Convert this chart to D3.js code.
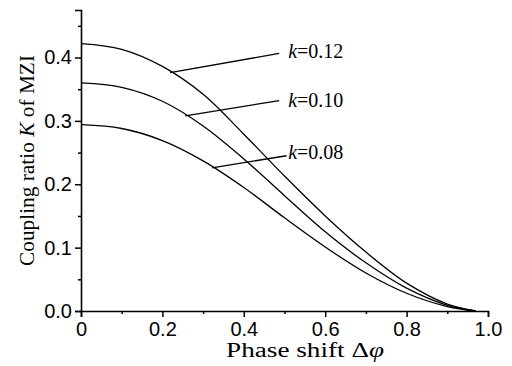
<!DOCTYPE html>
<html>
<head>
<meta charset="utf-8">
<script src="https://cdn.jsdelivr.net/npm/d3@7"></script>
<style>
  body { margin: 0; background: #fff; }
  svg { font-family: "Liberation Serif", "Times New Roman", serif; }
</style>
</head>
<body>
<div id="chart"></div>
<script>
// phase shift samples and coupling ratio K
const phase = [0, 0.1, 0.2, 0.3, 0.4, 0.5, 0.6, 0.7, 0.8, 0.9, 0.97];
const k012 = [0.422, 0.413, 0.386, 0.342, 0.279, 0.213, 0.150, 0.093, 0.044, 0.011, 0];
const k010 = [0.360, 0.353, 0.331, 0.292, 0.240, 0.182, 0.125, 0.076, 0.036, 0.009, 0];
const k008 = [0.294, 0.288, 0.269, 0.237, 0.195, 0.147, 0.101, 0.060, 0.028, 0.007, 0];

const xTicks = [0, 0.2, 0.4, 0.6, 0.8, 1.0];
const xTickLabels = ['0', '0.2', '0.4', '0.6', '0.8', '1.0'];
const yTicks = [0, 0.1, 0.2, 0.3, 0.4];

// annotations: where the leader touches the curve and where it ends (data units)
const labels = [
  {k: '0.12', x0: 0.219, y0: 0.376, x1: 0.487, y1: 0.4066, ty: 0.4106},
  {k: '0.10', x0: 0.256, y0: 0.308, x1: 0.487, y1: 0.332, ty: 0.333},
  {k: '0.08', x0: 0.322, y0: 0.226, x1: 0.505, y1: 0.245, ty: 0.251}
];

var margin = {top: 10, right: 24, bottom: 55, left: 81},
  width = 512 - margin.left - margin.right,
  height = 366 - margin.top - margin.bottom;

var x = d3.scaleLinear().domain([0, 1]).range([0, width]);
var y = d3.scaleLinear().domain([0, 0.475]).range([height, 0]);

var svg = d3.select('#chart')
  .append('svg')
  .attr('width', 512)
  .attr('height', 366)
  .append('g')
  .attr('transform', `translate(${margin.left},${margin.top})`);

// minor ticks first, then the major axes
svg.append('g')
  .attr('transform', `translate(0,${height})`)
  .call(d3.axisBottom(x).tickValues(d3.range(0.1, 1, 0.2)).tickSize(3).tickFormat(''))
  .call(g => g.select('.domain').remove());

svg.append('g')
  .call(d3.axisLeft(y).tickValues(d3.range(0.05, 0.46, 0.1)).tickSize(3).tickFormat(''))
  .call(g => g.select('.domain').remove());

var xAxis = svg.append('g')
  .attr('transform', `translate(0,${height})`)
  .call(d3.axisBottom(x).tickValues(xTicks).tickSizeOuter(0).tickSize(6).tickPadding(5)
    .tickFormat((d, i) => xTickLabels[i]));

var yAxis = svg.append('g')
  .call(d3.axisLeft(y).tickValues(yTicks).tickSizeOuter(0).tickSize(6).tickPadding(3)
    .tickFormat(d3.format('.1f')));

svg.selectAll('.tick line').attr('stroke-width', 1.5);
svg.selectAll('.domain').attr('stroke-width', 1.6);
svg.selectAll('.tick text').style('font-size', '20px').attr('fill', '#000');

var line = d3.line()
  .x((d, i) => x(phase[i]))
  .y(d => y(d))
  .curve(d3.curveCatmullRom.alpha(0.5));

[k012, k010, k008].forEach(function (s) {
  svg.append('path')
    .attr('class', 'line')
    .style('stroke', 'black')
    .style('stroke-width', 1.3)
    .style('fill', 'none')
    .attr('d', line(s));
});

// leaders and k labels
labels.forEach(function (l) {
  svg.append('line')
    .attr('x1', x(l.x0)).attr('y1', y(l.y0))
    .attr('x2', x(l.x1)).attr('y2', y(l.y1))
    .attr('stroke', 'black')
    .attr('stroke-width', 1.3);

  var t = svg.append('text')
    .attr('x', x(0.509))
    .attr('y', y(l.ty))
    .attr('dy', '0.35em')
    .style('font-size', '20px');
  t.append('tspan').style('font-style', 'italic').text('k');
  t.append('tspan').text('=' + l.k);
});

// axis titles
svg.append('text')
  .attr('x', 145)
  .attr('y', height + 46)
  .style('font-size', '20px')
  .attr('textLength', 158)
  .attr('lengthAdjust', 'spacingAndGlyphs')
  .html('Phase shift Δ<tspan font-style="italic">φ</tspan>');

svg.append('text')
  .attr('transform', `translate(${-47},${256}) rotate(-90)`)
  .style('font-size', '20px')
  .attr('textLength', 211)
  .attr('lengthAdjust', 'spacingAndGlyphs')
  .html('Coupling ratio <tspan font-style="italic">K</tspan> of MZI');
</script>
</body>
</html>
